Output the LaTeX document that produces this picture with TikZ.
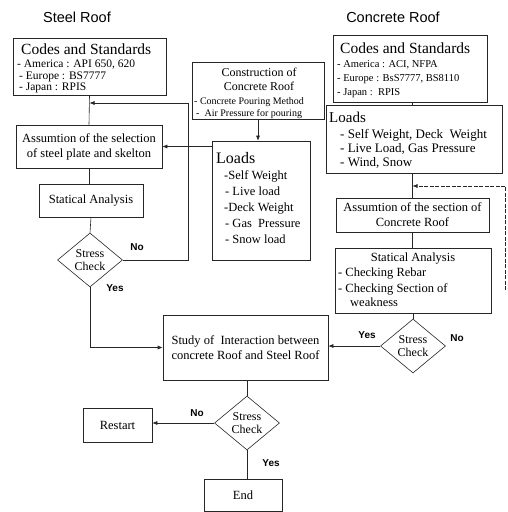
\documentclass[tikz,border=0pt]{standalone}
\usepackage{fontspec}
\setmainfont{Liberation Serif}
\newfontfamily\arialfont{Liberation Sans}
\usetikzlibrary{arrows.meta,shapes.geometric}
\begin{document}
\begin{tikzpicture}[x=1pt,y=-1pt,
  box/.style={draw=black!85,line width=0.6pt,inner sep=0pt},
  dia/.style={diamond,draw=black!85,line width=0.6pt,inner sep=0pt,minimum width=65pt,minimum height=54pt,aspect=1.2,font=\fontsize{12}{13}\selectfont,align=center},
  conn/.style={draw=black!85,line width=0.6pt},
  arr/.style={conn,-{Latex[length=5pt,width=4pt]}},
  yn/.style={font=\arialfont\bfseries\fontsize{10}{11}\selectfont},
  ttl/.style={font=\arialfont\fontsize{14.5}{16}\selectfont},
  txt/.style={anchor=base west,inner sep=0pt},
  ctxt/.style={anchor=base,inner sep=0pt},
  ]
\useasboundingbox (0,0) rectangle (507,512);
% titles
\node[ttl] (t1) at (77,17) {Steel Roof};
\node[ttl] (t2) at (393,17) {Concrete Roof};

% left codes
\node[box,minimum width=153pt,minimum height=57pt] (lcodes) at (89.5,66.5) {};
\node[txt,font=\fontsize{15.5}{17}\selectfont] (lc0) at (21,54) {Codes and Standards};
\node[txt,font=\fontsize{11.5}{13}\selectfont] (lc1) at (17,67) {- America : API 650, 620};
\node[txt,font=\fontsize{11.5}{13}\selectfont] (lc2) at (19,79) {- Europe : BS7777};
\node[txt,font=\fontsize{11.5}{13}\selectfont] (lc3) at (19,90) {- Japan : RPIS};

% left assumption
\node[box,minimum width=146pt,minimum height=43pt,align=center,font=\fontsize{12.5}{15}\selectfont] (lassume) at (89,146.5) {Assumtion of the selection\\of steel plate and skelton};
% left statical
\node[box,minimum width=104pt,minimum height=33pt,font=\fontsize{12.5}{15}\selectfont] (lstat) at (91,200.5) {Statical Analysis};
% left diamond
\node[dia] (ldia) at (90,260) {Stress\\Check};
\node[yn] (lno) at (137,247) {No};
\node[yn] (lyes) at (115,288) {Yes};

% construction
\node[box,minimum width=132pt,minimum height=57pt] (constr) at (258,90.5) {};
\node[ctxt,font=\fontsize{12}{14}\selectfont] (cs0) at (259,76) {Construction of};
\node[ctxt,font=\fontsize{12}{14}\selectfont] (cs1) at (259,90) {Concrete Roof};
\node[txt,font=\fontsize{10}{12}\selectfont] (cs2) at (194,104.5) {- Concrete Pouring Method};
\node[txt,font=\fontsize{10}{12}\selectfont] (cs3) at (196,116) {-\ \ Air Pressure for pouring};

% middle loads
\node[box,minimum width=98pt,minimum height=119pt] (loads) at (261,200.5) {};
\node[txt,font=\fontsize{16}{18}\selectfont] (ml0) at (216,163) {Loads};
\node[txt,font=\fontsize{12.5}{14}\selectfont] (ml1) at (224,179) {-Self Weight};
\node[txt,font=\fontsize{12.5}{14}\selectfont] (ml2) at (225,195) {- Live load};
\node[txt,font=\fontsize{12.5}{14}\selectfont] (ml3) at (224,211) {-Deck Weight};
\node[txt,font=\fontsize{12.5}{14}\selectfont] (ml4) at (225,227) {- Gas\ \ Pressure};
\node[txt,font=\fontsize{12.5}{14}\selectfont] (ml5) at (225,243) {- Snow load};

% right codes
\node[box,minimum width=154pt,minimum height=67pt] (rcodes) at (410,68.5) {};
\node[txt,font=\fontsize{15.5}{17}\selectfont] (rc0) at (340,53) {Codes and Standards};
\node[txt,font=\fontsize{10.5}{12}\selectfont] (rc1) at (337,67) {- America : ACI, NFPA};
\node[txt,font=\fontsize{10.5}{12}\selectfont] (rc2) at (337,81) {- Europe : BsS7777, BS8110};
\node[txt,font=\fontsize{10.5}{12}\selectfont] (rc3) at (337,95) {- Japan :\ \ RPIS};

% right loads
\node[box,minimum width=176pt,minimum height=68pt] (rloads) at (414,139) {};
\node[txt,font=\fontsize{15}{17}\selectfont] (rl0) at (329,122) {Loads};
\node[txt,font=\fontsize{13}{15}\selectfont] (rl1) at (340,138) {- Self Weight, Deck\ \ Weight};
\node[txt,font=\fontsize{13}{15}\selectfont] (rl2) at (340,152) {- Live Load, Gas Pressure};
\node[txt,font=\fontsize{13}{15}\selectfont] (rl3) at (340,166) {- Wind, Snow};

% right assumption
\node[box,minimum width=153pt,minimum height=34pt,align=center,font=\fontsize{12.5}{15}\selectfont] (rassume) at (412.5,215) {Assumtion of the section of\\Concrete Roof};

% right statical
\node[box,minimum width=156pt,minimum height=65pt] (rstat) at (413,280.5) {};
\node[ctxt,font=\fontsize{12.5}{14}\selectfont] (rs0) at (413,261) {Statical Analysis};
\node[txt,font=\fontsize{12.5}{14}\selectfont] (rs1) at (338,276) {- Checking Rebar};
\node[txt,font=\fontsize{12.5}{14}\selectfont] (rs2) at (338,292) {- Checking Section of};
\node[txt,font=\fontsize{12.5}{14}\selectfont] (rs3) at (350,306) {weakness};

% right diamond
\node[dia] (rdia) at (413,346) {Stress\\Check};
\node[yn] (ryes) at (367,335) {Yes};
\node[yn] (rno) at (457,338) {No};

% interaction
\node[box,minimum width=165pt,minimum height=65pt,align=center,font=\fontsize{12.5}{15}\selectfont] (inter) at (245.5,347.5) {Study of\ \ Interaction between\\concrete Roof and Steel Roof};

% bottom
\node[dia] (bdia) at (247,423) {Stress\\Check};
\node[box,minimum width=69pt,minimum height=34pt,font=\fontsize{12.5}{15}\selectfont] (restart) at (117.5,425) {Restart};
\node[yn] (bno) at (197,413) {No};
\node[box,minimum width=78pt,minimum height=32pt,font=\fontsize{12.5}{15}\selectfont] (endb) at (243,495) {End};
\node[yn] (byes) at (271,463) {Yes};

% coordinates
\coordinate (fbL) at (188,103);
\coordinate (fbR1) at (505,290);
\coordinate (fbR2) at (505,186);

% connectors
\draw[conn] (lcodes.south) -- (lassume.north);
\draw[arr] (ldia.east) -| (fbL) -- (lcodes.south |- fbL);
\draw[conn] (lassume.south) -- (lassume.south |- lstat.north);
\draw[conn] (lstat.south) -- (ldia.north);
\draw[arr] (ldia.south) |- (inter.west);
\draw[arr] (constr.south) -- (constr.south |- loads.north);
\draw[arr] (loads.west |- lassume.east) -- (lassume.east);
\draw[conn] (rcodes.south -| rassume.north) -- (rloads.north -| rassume.north);
\draw[conn] (rloads.south -| rassume.north) -- (rassume.north);
\draw[conn,dash pattern=on 4pt off 1.5pt] (fbR1) -- (fbR2);
\draw[arr,dash pattern=on 4pt off 1.5pt] (fbR2) -- (rassume.north |- fbR2);
\draw[conn] (rassume.south) -- (rassume.south |- rstat.north);
\draw[conn] (rstat.south -| rdia.north) -- (rdia.north);
\draw[arr] (rdia.west) -- (inter.east |- rdia.west);
\draw[conn] (inter.south -| bdia.north) -- (bdia.north);
\draw[arr] (bdia.west) -- (restart.east |- bdia.west);
\draw[conn] (bdia.south) -- (bdia.south |- endb.north);
\end{tikzpicture}
\end{document}
